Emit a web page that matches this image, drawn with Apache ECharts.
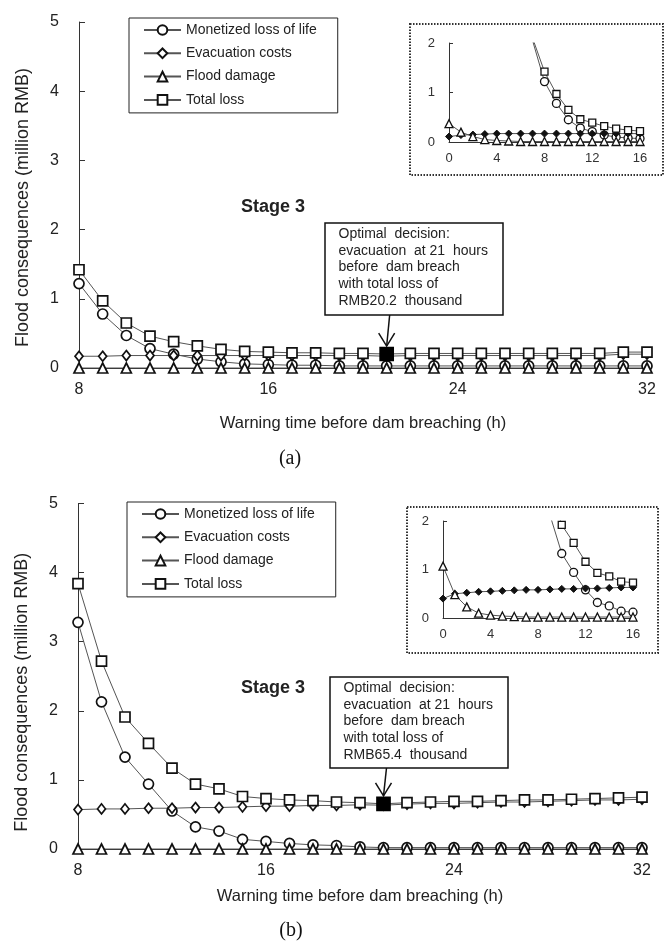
<!DOCTYPE html>
<html><head><meta charset="utf-8">
<script src="https://cdn.jsdelivr.net/npm/echarts@6/dist/echarts.min.js"></script>
<style>html,body{margin:0;padding:0;background:#fff}#c{width:670px;height:950px}</style>
</head><body><div id="c"></div>
<script>
// ---------- data ----------
const seriesNames = ['Monetized loss of life', 'Evacuation costs', 'Flood damage', 'Total loss'];
const hoursMain = [8,9,10,11,12,13,14,15,16,17,18,19,20,21,22,23,24,25,26,27,28,29,30,31,32];
const hoursInset = [0,1,2,3,4,5,6,7,8,9,10,11,12,13,14,15,16];
const optimalHour = 21;
const xTicksMain = [8, 16, 24, 32];
const xTicksInset = [0, 4, 8, 12, 16];

// (a)
const aLife  = [1.22,0.78,0.47,0.28,0.20,0.13,0.09,0.06,0.05,0.04,0.04,0.03,0.03,0.03,0.03,0.03,0.03,0.03,0.03,0.03,0.03,0.03,0.03,0.03,0.03];
const aEvac  = [0.17,0.17,0.18,0.18,0.18,0.18,0.18,0.18,0.18,0.18,0.18,0.18,0.18,0.17,0.18,0.18,0.18,0.18,0.18,0.18,0.18,0.18,0.18,0.20,0.20];
const aFlood = [0,0,0,0,0,0,0,0,0,0,0,0,0,0,0,0,0,0,0,0,0,0,0,0,0];
const aTotal = [1.42,0.97,0.65,0.46,0.38,0.32,0.27,0.24,0.23,0.22,0.22,0.21,0.21,0.202,0.21,0.21,0.21,0.21,0.21,0.21,0.21,0.21,0.21,0.23,0.23];
// (a) inset, hours 0..16
const iaLife  = [null,null,null,null,null,null,null,2.05,1.22,0.78,0.45,0.28,0.21,0.14,0.10,0.08,0.07];
const iaEvac  = [0.11,0.14,0.15,0.16,0.17,0.17,0.17,0.17,0.17,0.17,0.17,0.17,0.17,0.17,0.17,0.17,0.17];
const iaFlood = [0.37,0.20,0.11,0.05,0.03,0.02,0.01,0.01,0.01,0.01,0.01,0.01,0.01,0.01,0.01,0.01,0.01];
const iaTotal = [null,null,null,null,null,null,null,2.10,1.42,0.97,0.65,0.46,0.39,0.32,0.27,0.24,0.22];

// (b)
const bLife  = [3.28,2.13,1.33,0.94,0.55,0.32,0.26,0.14,0.11,0.08,0.06,0.05,0.03,0.02,0.02,0.02,0.02,0.02,0.02,0.02,0.02,0.02,0.02,0.02,0.02];
const bEvac  = [0.57,0.58,0.58,0.59,0.59,0.60,0.60,0.61,0.62,0.62,0.63,0.63,0.64,0.634,0.65,0.66,0.66,0.67,0.68,0.68,0.69,0.70,0.71,0.71,0.72];
const bFlood = [0,0,0,0,0,0,0,0,0,0,0,0,0,0,0,0,0,0,0,0,0,0,0,0,0];
const bTotal = [3.84,2.72,1.91,1.53,1.17,0.94,0.87,0.76,0.73,0.71,0.70,0.68,0.67,0.654,0.67,0.68,0.69,0.69,0.70,0.71,0.71,0.72,0.73,0.74,0.75];
// (b) inset, hours 0..16
const ibLife  = [null,null,null,null,null,null,null,null,3.28,2.13,1.33,0.94,0.58,0.32,0.25,0.14,0.12];
const ibEvac  = [0.40,0.50,0.52,0.54,0.55,0.56,0.57,0.58,0.58,0.59,0.60,0.60,0.61,0.61,0.62,0.63,0.63];
const ibFlood = [1.07,0.48,0.23,0.10,0.06,0.04,0.03,0.02,0.02,0.02,0.02,0.02,0.02,0.02,0.02,0.02,0.02];
const ibTotal = [null,null,null,null,null,null,null,null,null,2.72,1.92,1.55,1.16,0.93,0.86,0.75,0.73];

const noteA = ['Optimal  decision:', 'evacuation  at 21  hours', 'before  dam breach', 'with total loss of', 'RMB20.2  thousand'];
const noteB = ['Optimal  decision:', 'evacuation  at 21  hours', 'before  dam breach', 'with total loss of', 'RMB65.4  thousand'];

// ---------- chart ----------
const FONT = '"Liberation Sans", Arial, sans-serif';
const TXT = '#222';
const chart = echarts.init(document.getElementById('c'), null, {renderer: 'canvas'});

function pairs(xs, ys) { return xs.map((x, i) => [x, ys[i]]); }

function lineSeries(name, xs, ys, gi, symbol, size, opts) {
  opts = opts || {};
  const data = pairs(xs, ys).map(p => {
    if (opts.highlightX !== undefined && p[0] === opts.highlightX) {
      return {value: p, symbolSize: opts.hlSize, itemStyle: {color: '#000', borderColor: '#000'}, z: 10};
    }
    return p;
  });
  return {
    type: 'line', name: name, xAxisIndex: gi, yAxisIndex: gi,
    data: data, symbol: symbol, symbolSize: size, showAllSymbol: true,
    clip: true, animation: false,
    lineStyle: {color: '#555', width: 1},
    itemStyle: {color: opts.filled ? '#111' : '#fff', borderColor: '#111', borderWidth: opts.bw || 1.7},
    emphasis: {disabled: true}
  };
}

const grids = [
  {left: 79, top: 22, width: 568, height: 346},
  {left: 449, top: 43, width: 191, height: 99},
  {left: 78, top: 503.5, width: 564, height: 345.5},
  {left: 443, top: 521, width: 190, height: 97}
];

function mainX(gi, nameGap) {
  return {
    type: 'value', gridIndex: gi, min: xTicksMain[0], max: xTicksMain[xTicksMain.length - 1], interval: 8,
    axisLine: {show: true, lineStyle: {color: '#333', width: 1}},
    axisTick: {show: false}, splitLine: {show: false},
    axisLabel: {fontSize: 16, color: TXT, fontFamily: FONT, margin: 14},
    name: 'Warning time before dam breaching (h)', nameLocation: 'middle', nameGap: nameGap,
    nameTextStyle: {fontSize: 16.5, color: TXT, fontFamily: FONT}
  };
}
function mainY(gi, pad) {
  return {
    type: 'value', gridIndex: gi, min: 0, max: 5, interval: 1,
    axisLine: {show: true, lineStyle: {color: '#333', width: 1}},
    axisTick: {show: true, inside: true, length: 6, lineStyle: {color: '#333'}},
    splitLine: {show: false},
    axisLabel: {fontSize: 16, color: TXT, fontFamily: FONT, margin: 20},
    name: 'Flood consequences (million RMB)', nameLocation: 'middle', nameGap: 47, nameRotate: 90,
    nameTextStyle: {fontSize: 18, color: TXT, fontFamily: FONT, padding: pad}
  };
}
function insetX(gi) {
  return {
    type: 'value', gridIndex: gi, min: xTicksInset[0], max: xTicksInset[xTicksInset.length - 1], interval: 4,
    axisLine: {show: true, lineStyle: {color: '#333', width: 1}},
    axisTick: {show: false}, splitLine: {show: false},
    axisLabel: {fontSize: 13, color: '#333', fontFamily: FONT, margin: 10}
  };
}
function insetY(gi) {
  return {
    type: 'value', gridIndex: gi, min: 0, max: 2, interval: 1,
    axisLine: {show: true, lineStyle: {color: '#333', width: 1}},
    axisTick: {show: true, inside: true, length: 4, lineStyle: {color: '#333'}},
    splitLine: {show: false},
    axisLabel: {fontSize: 13, color: '#333', fontFamily: FONT, margin: 14}
  };
}

const series = [
  lineSeries(seriesNames[0], hoursMain, aLife, 0, 'circle', 10),
  lineSeries(seriesNames[1], hoursMain, aEvac, 0, 'diamond', [8, 10]),
  lineSeries(seriesNames[2], hoursMain, aFlood, 0, 'triangle', 10),
  lineSeries(seriesNames[3], hoursMain, aTotal, 0, 'rect', 10, {highlightX: optimalHour, hlSize: 13}),

  lineSeries('inset a life', hoursInset, iaLife, 1, 'circle', 8, {bw: 1.3}),
  lineSeries('inset a evac', hoursInset, iaEvac, 1, 'diamond', 7, {filled: true, bw: 1}),
  lineSeries('inset a flood', hoursInset, iaFlood, 1, 'triangle', 8, {bw: 1.3}),
  lineSeries('inset a total', hoursInset, iaTotal, 1, 'rect', 7, {bw: 1.3}),

  lineSeries(seriesNames[0], hoursMain, bLife, 2, 'circle', 10),
  lineSeries(seriesNames[1], hoursMain, bEvac, 2, 'diamond', [8, 10]),
  lineSeries(seriesNames[2], hoursMain, bFlood, 2, 'triangle', 10),
  lineSeries(seriesNames[3], hoursMain, bTotal, 2, 'rect', 10, {highlightX: optimalHour, hlSize: 13}),

  lineSeries('inset b life', hoursInset, ibLife, 3, 'circle', 8, {bw: 1.3}),
  lineSeries('inset b evac', hoursInset, ibEvac, 3, 'diamond', 7, {filled: true, bw: 1}),
  lineSeries('inset b flood', hoursInset, ibFlood, 3, 'triangle', 8, {bw: 1.3}),
  lineSeries('inset b total', hoursInset, ibTotal, 3, 'rect', 7, {bw: 1.3})
];

function legend(left, top) {
  return {
    data: seriesNames, orient: 'vertical', left: left, top: top,
    selectedMode: false, padding: [5, 21, 6, 14], itemGap: 9.3,
    itemWidth: 37, itemHeight: 12, borderColor: '#222', borderWidth: 1,
    textStyle: {fontSize: 14, color: TXT, fontFamily: FONT}
  };
}

chart.setOption({
  animation: false,
  backgroundColor: '#fff',
  grid: grids,
  xAxis: [mainX(0, 47), insetX(1), mainX(2, 39), insetX(3)],
  yAxis: [mainY(0, [0, 25, 0, 0]), insetY(1), mainY(2, [0, 32, 0, 0]), insetY(3)],
  legend: [legend(129, 18), legend(127, 502)],
  series: series
});

// annotations positioned from the data through the library's scales
function annotation(gi, values, note, box, stageY) {
  const idx = hoursMain.indexOf(optimalHour);
  const tip = chart.convertToPixel({gridIndex: gi}, [optimalHour, values[idx]]);
  const tipY = tip[1] - 8;
  const boxBottom = box.y + box.h;
  const startX = tip[0] + 3;
  return [
    {type: 'text', x: 273, y: stageY, style: {text: 'Stage 3', font: 'bold 18px ' + FONT, fill: TXT, align: 'center', verticalAlign: 'middle'}},
    {type: 'rect', shape: {x: box.x, y: box.y, width: box.w, height: box.h}, style: {fill: '#fff', stroke: '#111', lineWidth: 1.5}},
    {type: 'text', x: box.x + 13.5, y: box.y + 2.5, style: {text: note.join('\n'), font: '14px ' + FONT, lineHeight: 16.8, fill: TXT, align: 'left', verticalAlign: 'top'}},
    {type: 'polyline', shape: {points: [[startX, boxBottom], [tip[0], tipY]]}, style: {stroke: '#111', lineWidth: 1.5, fill: 'none'}},
    {type: 'polyline', shape: {points: [[tip[0] - 8, tipY - 13], [tip[0], tipY], [tip[0] + 8, tipY - 13]]}, style: {stroke: '#111', lineWidth: 1.5, fill: 'none'}}
  ];
}

const g = [];
g.push({type: 'rect', shape: {x: 410, y: 24, width: 253, height: 151}, style: {fill: 'none', stroke: '#333', lineWidth: 2, lineDash: [1.5, 1.5]}, z: -1});
g.push({type: 'rect', shape: {x: 407, y: 507, width: 251, height: 146}, style: {fill: 'none', stroke: '#333', lineWidth: 2, lineDash: [1.5, 1.5]}, z: -1});
annotation(0, aTotal, noteA, {x: 325, y: 223, w: 178, h: 92}, 207).forEach(e => g.push(e));
annotation(2, bTotal, noteB, {x: 330, y: 677, w: 178, h: 91}, 688).forEach(e => g.push(e));
g.push({type: 'text', x: 290, y: 459, style: {text: '(a)', font: '20px "Liberation Serif", "Times New Roman", serif', fill: '#111', align: 'center', verticalAlign: 'middle'}});
g.push({type: 'text', x: 291, y: 931, style: {text: '(b)', font: '20px "Liberation Serif", "Times New Roman", serif', fill: '#111', align: 'center', verticalAlign: 'middle'}});

chart.setOption({graphic: g});
</script>
</body></html>
